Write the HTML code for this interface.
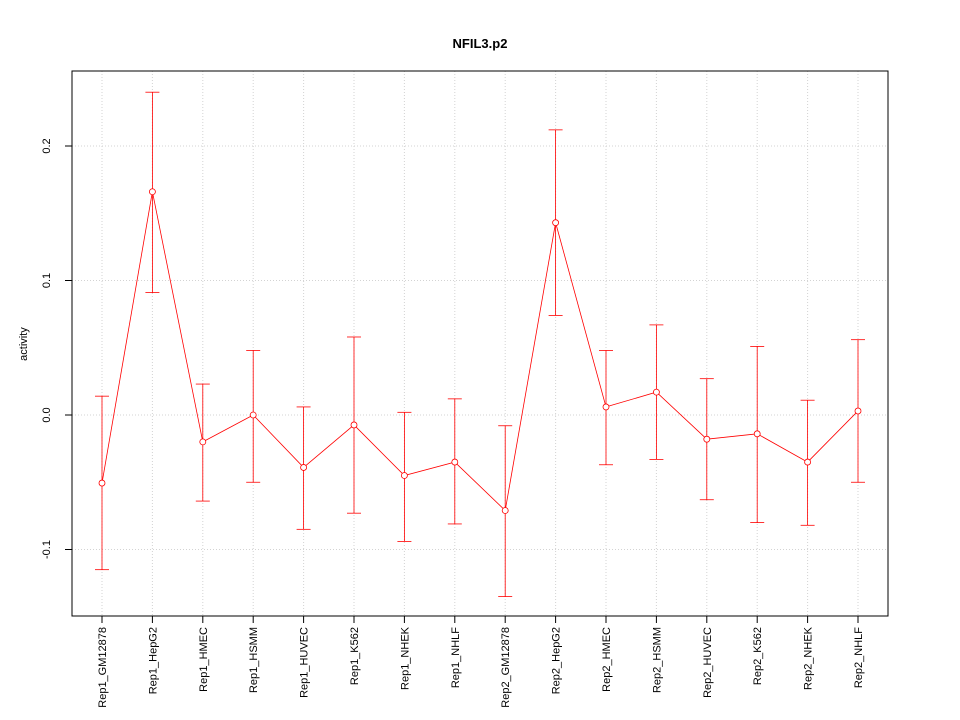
<!DOCTYPE html>
<html><head><meta charset="utf-8"><style>
body{margin:0;background:#fff;}
svg{display:block;font-family:"Liberation Sans",sans-serif;}
</style></head><body>
<svg id="chart" width="960" height="720">
<text x="480" y="48" text-anchor="middle" font-size="13" font-weight="bold">NFIL3.p2</text>
<text transform="translate(27,344) rotate(-90)" text-anchor="middle" font-size="11">activity</text>
<g id="grid"></g><g id="bars"></g><g id="line"></g><g id="yaxis"></g><g id="xaxis"></g>
<rect x="72" y="71" width="816" height="545" fill="none" stroke="#000"/>
</svg>
<script>
const categories=["Rep1_GM12878","Rep1_HepG2","Rep1_HMEC","Rep1_HSMM","Rep1_HUVEC","Rep1_K562","Rep1_NHEK","Rep1_NHLF","Rep2_GM12878","Rep2_HepG2","Rep2_HMEC","Rep2_HSMM","Rep2_HUVEC","Rep2_K562","Rep2_NHEK","Rep2_NHLF"];
const values=[-0.0506,0.166,-0.020,0.0,-0.039,-0.0074,-0.045,-0.035,-0.071,0.143,0.006,0.017,-0.018,-0.014,-0.035,0.003];
const upper=[0.014,0.240,0.023,0.048,0.006,0.058,0.002,0.012,-0.008,0.212,0.048,0.067,0.027,0.051,0.011,0.056];
const lower=[-0.115,0.091,-0.064,-0.050,-0.085,-0.073,-0.094,-0.081,-0.135,0.074,-0.037,-0.033,-0.063,-0.080,-0.082,-0.050];
const yTicks=[-0.1,0.0,0.1,0.2];
const yTickLabels=["-0.1","0.0","0.1","0.2"];
const NS="http://www.w3.org/2000/svg";
const x=i=>102+i*(756/(categories.length-1));
const y=v=>415-v*1345;
function mk(tag,attrs,parent){const e=document.createElementNS(NS,tag);for(const k in attrs)e.setAttribute(k,attrs[k]);document.getElementById(parent).appendChild(e);return e;}
yTicks.forEach((t,i)=>{
 let g=mk('line',{x1:72,x2:888,y1:y(t),y2:y(t),stroke:'#d3d3d3','stroke-dasharray':'1,2'},'grid');
 
 
 let tk=mk('line',{x1:65,x2:72,y1:y(t),y2:y(t),stroke:'#000'},'yaxis');
 
 
 let tl=mk('text',{transform:`translate(50,${y(t)}) rotate(-90)`,'text-anchor':'middle','font-size':11},'yaxis');
 tl.textContent=yTickLabels[i];
 
 
});
categories.forEach((c,i)=>{
 const cx=x(i);
 let g=mk('line',{x1:cx,x2:cx,y1:71,y2:616,stroke:'#d3d3d3','stroke-dasharray':'1,2'},'grid');
 
 
 let tk=mk('line',{x1:cx,x2:cx,y1:616,y2:623,stroke:'#000'},'xaxis');
 
 
 let tl=mk('text',{transform:`translate(${cx+4},627) rotate(-90)`,'text-anchor':'end','font-size':11},'xaxis');
 tl.textContent=c;
 
 
 let eb=mk('line',{x1:cx,x2:cx,y1:y(upper[i]),y2:y(lower[i]),stroke:'#ff0000','stroke-width':0.8},'bars');
 
 
 [upper[i],lower[i]].forEach(v=>{
  let cap=mk('line',{x1:cx-7,x2:cx+7,y1:y(v),y2:y(v),stroke:'#ff0000','stroke-width':0.8},'bars');
  
  
 });
});
const pts=values.map((v,i)=>x(i)+','+y(v)).join(' ');
let pl=mk('polyline',{points:pts,fill:'none',stroke:'#ff0000','stroke-width':0.8},'line');


values.forEach((v,i)=>{
 let p=mk('circle',{cx:x(i),cy:y(v),r:3,fill:'#fff',stroke:'#ff0000','stroke-width':0.8},'line');
 
 
});
</script>
</body></html>
